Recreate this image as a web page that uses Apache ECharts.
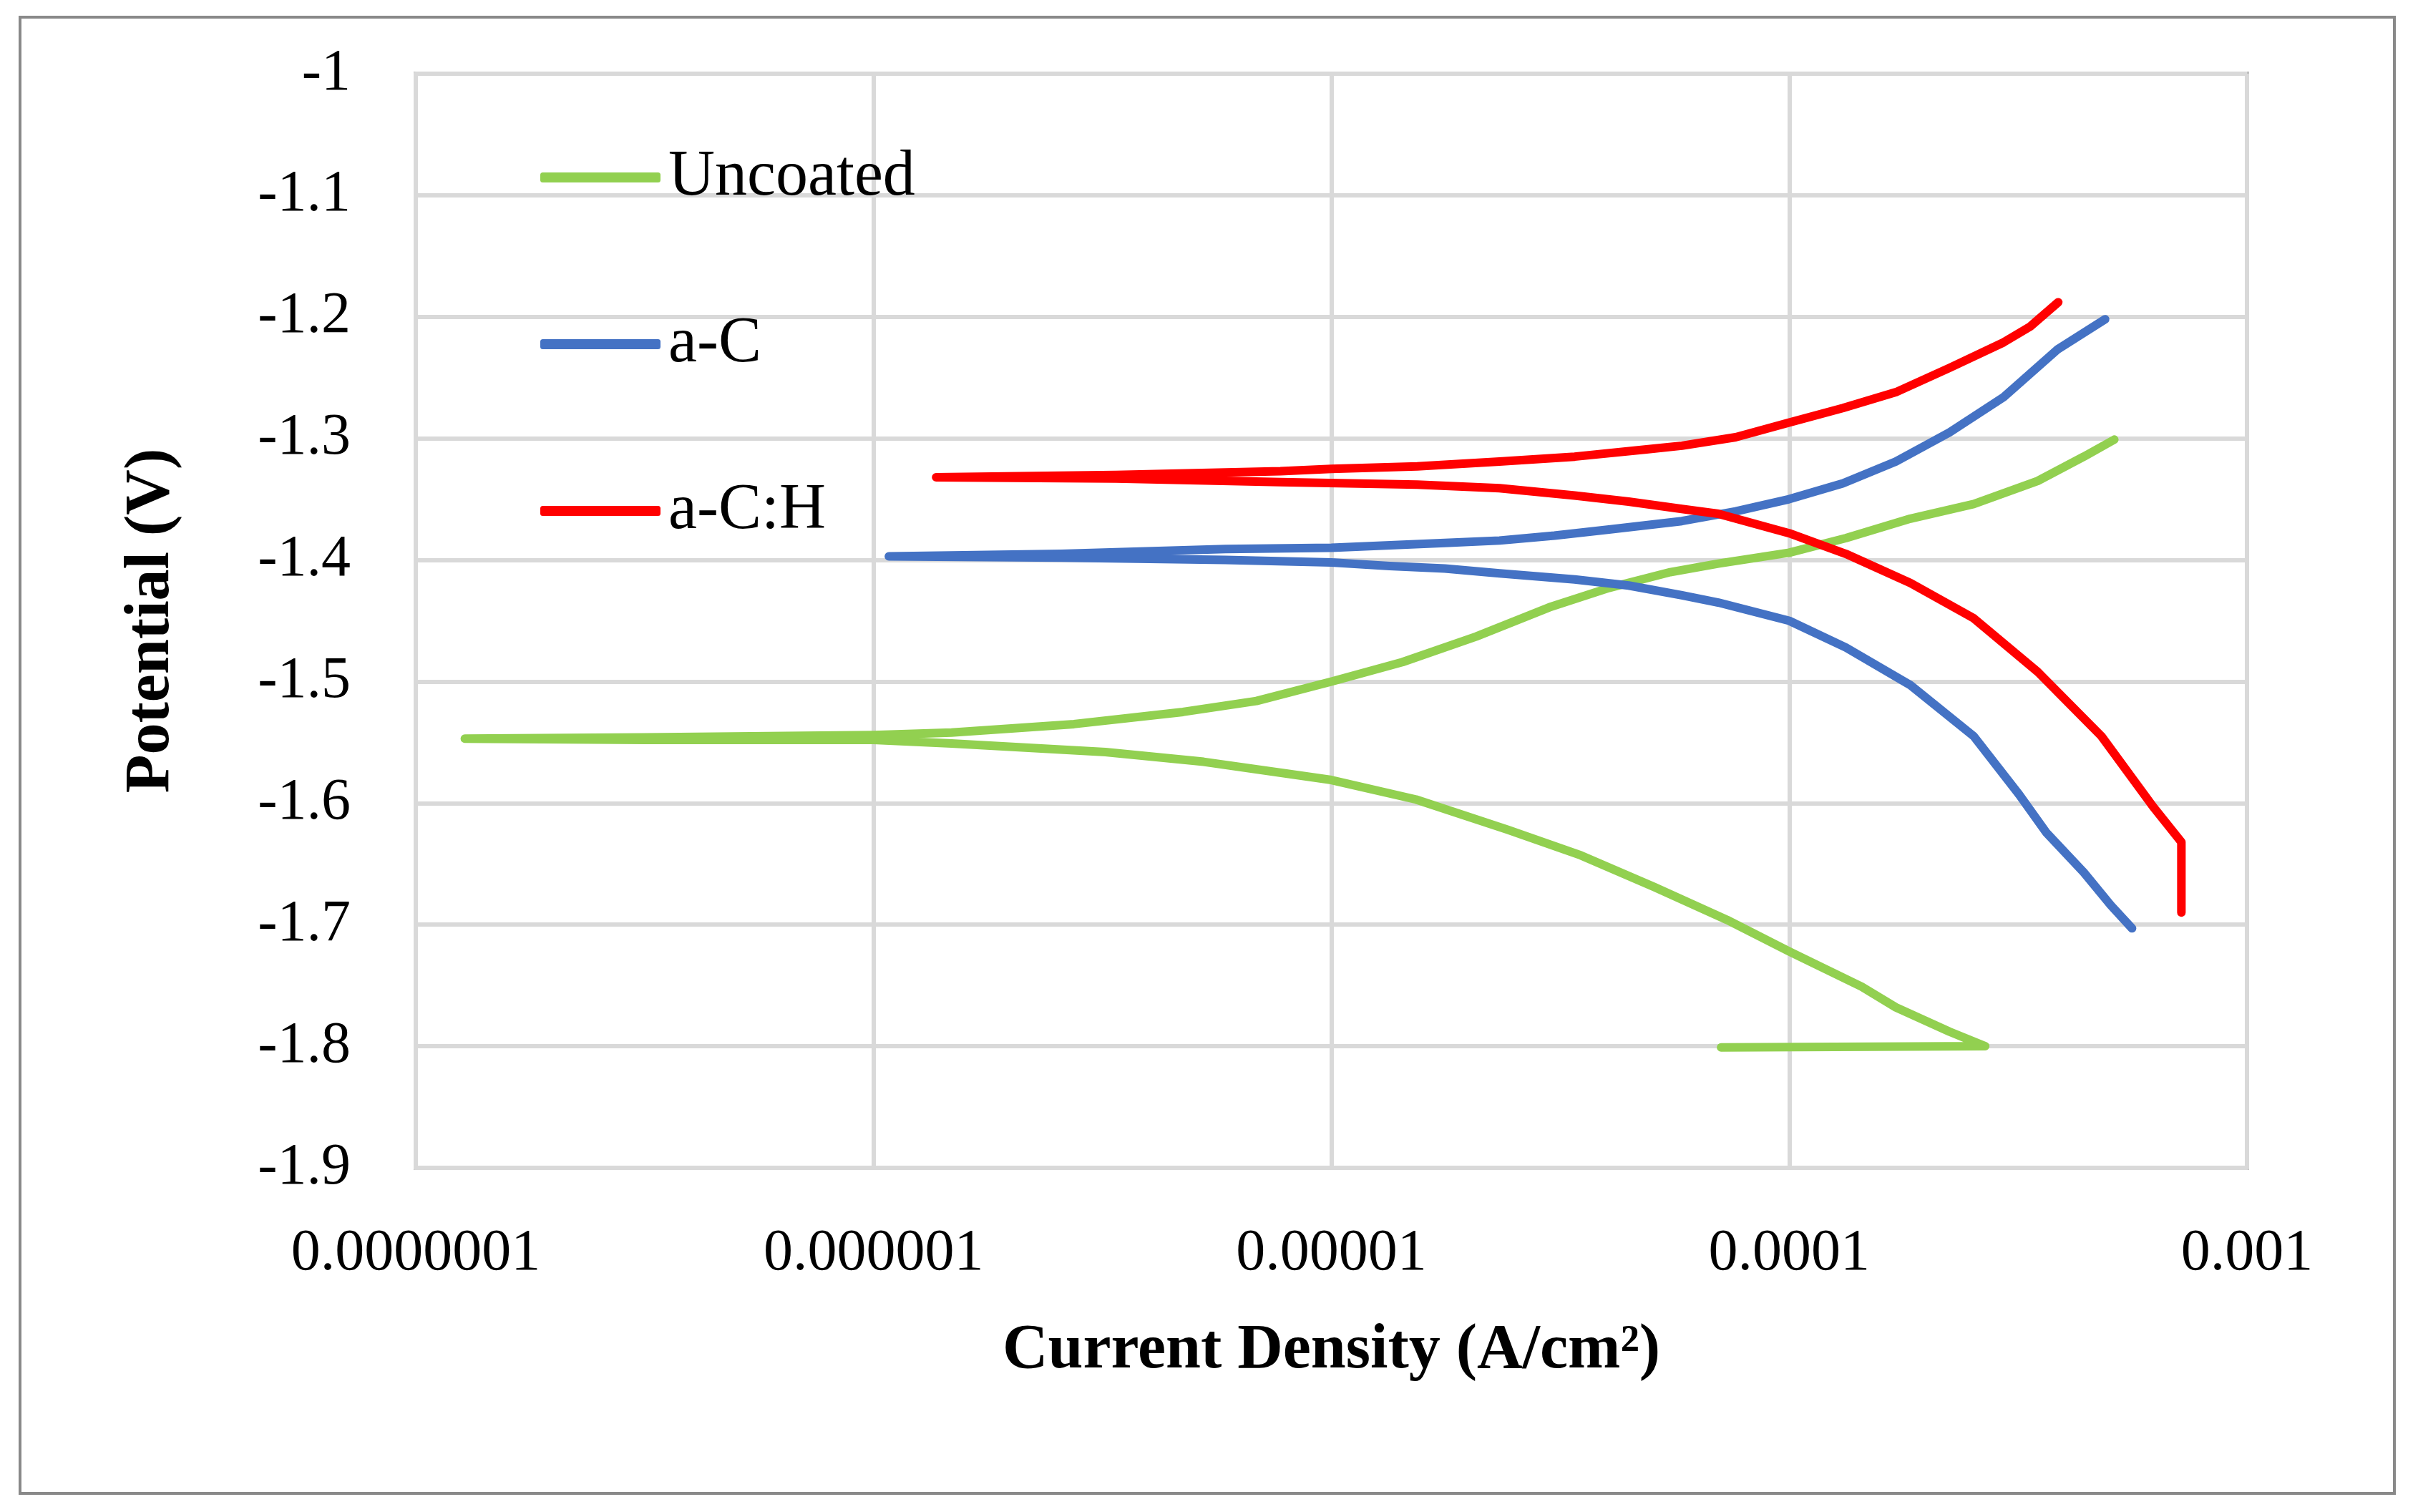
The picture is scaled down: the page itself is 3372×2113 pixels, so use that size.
<!DOCTYPE html>
<html>
<head>
<meta charset="utf-8">
<script src="https://cdn.jsdelivr.net/npm/echarts@6/dist/echarts.min.js"></script>
<style>
html,body{margin:0;padding:0;background:#fff;}
#chart{width:3372px;height:2113px;}
</style>
</head>
<body>
<div id="chart"></div>
<script>
// ---- Data (current density in A/cm2, potential in V), in sweep order ----
const seriesNames = ['Uncoated', 'a-C', 'a-C:H'];
const seriesColors = ['#92d050', '#4472c4', '#ff0000'];

const uncoatedI = [7.1e-5, 2.68e-4, 2.24e-4, 1.71e-4, 1.44e-4, 1.0e-4, 7.31e-5, 5.07e-5, 3.51e-5, 2.43e-5, 1.53e-5, 1.0e-5, 8.07e-6, 5.26e-6, 3.21e-6, 1.48e-6, 1.0e-6, 3.16e-7, 1.28e-7,
  3.16e-7, 1.0e-6, 1.48e-6, 2.74e-6, 4.74e-6, 6.86e-6, 1.0e-5, 1.43e-5, 2.07e-5, 2.99e-5, 4.04e-5, 5.5e-5, 7.0e-5, 1.0e-4, 1.33e-4, 1.84e-4, 2.53e-4, 3.49e-4, 4.40e-4, 5.13e-4];
const uncoatedE = [-1.801, -1.800, -1.788, -1.768, -1.751, -1.722, -1.696, -1.669, -1.643, -1.622, -1.597, -1.581, -1.576, -1.566, -1.558, -1.551, -1.548, -1.548, -1.547,
  -1.546, -1.544, -1.542, -1.535, -1.525, -1.516, -1.500, -1.484, -1.463, -1.439, -1.423, -1.410, -1.403, -1.394, -1.382, -1.366, -1.354, -1.335, -1.315, -1.301];

const aCI = [5.61e-4, 5.04e-4, 4.40e-4, 3.64e-4, 3.18e-4, 2.53e-4, 1.84e-4, 1.33e-4, 1.0e-4, 7.0e-5, 5.83e-5, 4.46e-5, 3.40e-5, 2.33e-5, 1.77e-5, 1.34e-5, 1.0e-5, 5.87e-6, 2.57e-6, 1.08e-6,
  2.57e-6, 5.87e-6, 1.0e-5, 1.77e-5, 2.33e-5, 3.07e-5, 4.04e-5, 5.83e-5, 7.64e-5, 1.0e-4, 1.31e-4, 1.71e-4, 2.24e-4, 2.94e-4, 3.85e-4, 4.90e-4];
const aCE = [-1.703, -1.684, -1.657, -1.624, -1.593, -1.545, -1.503, -1.472, -1.450, -1.435, -1.429, -1.421, -1.416, -1.411, -1.407, -1.405, -1.402, -1.400, -1.398, -1.397,
  -1.395, -1.391, -1.390, -1.386, -1.384, -1.380, -1.375, -1.368, -1.360, -1.350, -1.337, -1.319, -1.295, -1.266, -1.227, -1.202];

const aCHI = [7.19e-4, 7.19e-4, 6.24e-4, 4.81e-4, 3.49e-4, 2.53e-4, 1.84e-4, 1.33e-4, 1.0e-4, 7.0e-5, 5.83e-5, 4.46e-5, 3.40e-5, 2.33e-5, 1.54e-5, 7.74e-6, 3.39e-6, 1.37e-6,
  3.39e-6, 7.74e-6, 1.0e-5, 1.54e-5, 2.33e-5, 3.40e-5, 4.88e-5, 5.83e-5, 7.64e-5, 1.0e-4, 1.31e-4, 1.71e-4, 2.24e-4, 2.94e-4, 3.36e-4, 3.87e-4];
const aCHE = [-1.690, -1.632, -1.603, -1.545, -1.492, -1.448, -1.419, -1.395, -1.378, -1.362, -1.358, -1.352, -1.347, -1.341, -1.338, -1.336, -1.333, -1.332,
  -1.330, -1.327, -1.325, -1.323, -1.319, -1.315, -1.309, -1.306, -1.299, -1.287, -1.275, -1.262, -1.242, -1.221, -1.208, -1.188];

const xTickLabels = ['0.0000001', '0.000001', '0.00001', '0.0001', '0.001'];
const yTickLabels = ['-1.9', '-1.8', '-1.7', '-1.6', '-1.5', '-1.4', '-1.3', '-1.2', '-1.1', '-1'];

const xAxisTitle = 'Current Density (A/cm²)';
const yAxisTitle = 'Potential (V)';

// ---- Build ----
function pairs(xs, ys) { return xs.map((x, i) => [x, ys[i]]); }
const allData = [pairs(uncoatedI, uncoatedE), pairs(aCI, aCE), pairs(aCHI, aCHE)];

const FONT = '"Liberation Serif", "DejaVu Serif", serif';
const chart = echarts.init(document.getElementById('chart'), null, {renderer: 'canvas'});

const option = {
  animation: false,
  backgroundColor: '#ffffff',
  grid: {
    left: 581, right: 232, top: 103, bottom: 481,
    show: true, borderColor: '#bfbfbf', borderWidth: 6, backgroundColor: 'transparent'
  },
  legend: {
    orient: 'vertical',
    left: 750, top: 193,
    itemWidth: 168, itemHeight: 14,
    itemGap: 133,
    icon: 'roundRect',
    data: seriesNames,
    textStyle: {fontFamily: FONT, fontSize: 90, color: '#000', lineHeight: 100, padding: [0, 0, 0, 6]}
  },
  xAxis: {
    type: 'log', logBase: 10, min: 1e-7, max: 1e-3,
    name: xAxisTitle, nameLocation: 'middle', nameGap: 212,
    nameTextStyle: {fontFamily: FONT, fontSize: 88, fontWeight: 'bold', color: '#000'},
    axisLine: {show: true, lineStyle: {color: '#d9d9d9', width: 6}},
    axisTick: {show: false},
    splitLine: {show: true, lineStyle: {color: '#d9d9d9', width: 6}},
    minorTick: {show: false}, minorSplitLine: {show: false},
    axisLabel: {
      margin: 79, fontFamily: FONT, fontSize: 82, color: '#000',
      formatter: function (v) {
        const k = Math.round(Math.log10(v)) + 7;
        return xTickLabels[k] !== undefined ? xTickLabels[k] : '';
      }
    }
  },
  yAxis: {
    type: 'value', min: -1.9, max: -1, interval: 0.1,
    name: yAxisTitle, nameLocation: 'middle', nameGap: 325, nameRotate: 90,
    nameTextStyle: {fontFamily: FONT, fontSize: 88, fontWeight: 'bold', color: '#000'},
    axisLine: {show: true, lineStyle: {color: '#d9d9d9', width: 6}},
    axisTick: {show: false},
    splitLine: {show: true, lineStyle: {color: '#d9d9d9', width: 6}},
    axisLabel: {
      margin: 91, fontFamily: FONT, fontSize: 82, color: '#000',
      formatter: function (v) {
        const k = Math.round((v + 1.9) * 10);
        return yTickLabels[k] !== undefined ? yTickLabels[k] : '';
      }
    }
  },
  series: seriesNames.map((name, i) => ({
    name: name,
    type: 'line',
    data: allData[i],
    showSymbol: false, symbol: 'none',
    color: seriesColors[i],
    lineStyle: {color: seriesColors[i], width: 12, cap: 'round', join: 'round'},
    itemStyle: {color: seriesColors[i]},
    z: 3 + i
  })),
  graphic: [{
    type: 'rect', silent: true, z: 100,
    shape: {x: 28, y: 24, width: 3318, height: 2063},
    style: {fill: 'none', stroke: '#898989', lineWidth: 4}
  }]
};
chart.setOption(option);
</script>
</body>
</html>
